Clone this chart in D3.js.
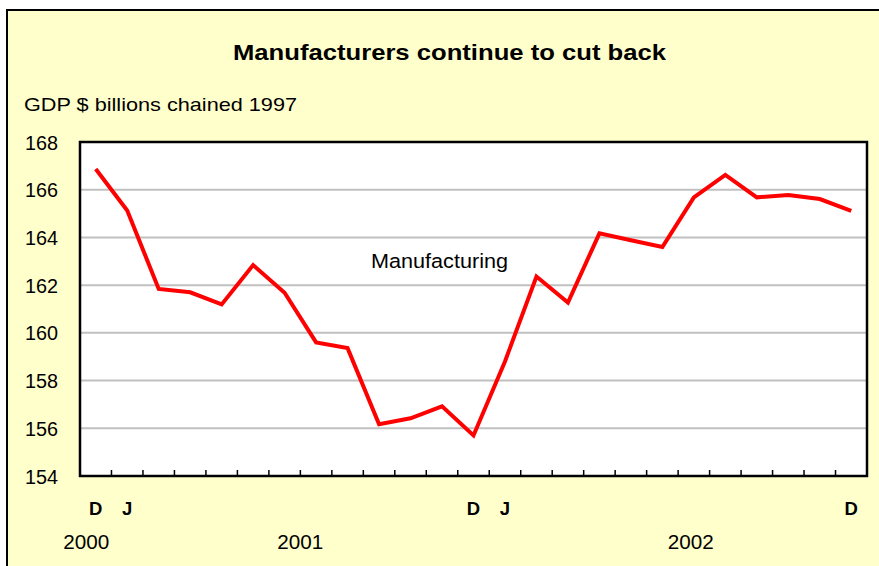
<!DOCTYPE html>
<html><head><meta charset="utf-8">
<script src="https://cdn.jsdelivr.net/npm/d3@7"></script>
<style>body{margin:0;background:#fff}svg{display:block;font-family:"Liberation Sans",Arial,sans-serif}</style>
</head><body><svg id="c" width="879" height="566"></svg>
<script>
const months = ["Dec00","Jan01","Feb01","Mar01","Apr01","May01","Jun01","Jul01","Aug01","Sep01","Oct01","Nov01","Dec01",
"Jan02","Feb02","Mar02","Apr02","May02","Jun02","Jul02","Aug02","Sep02","Oct02","Nov02","Dec02"];
const manufacturing = [166.87,165.13,161.84,161.70,161.19,162.84,161.68,159.60,159.36,156.17,156.42,156.92,155.70,
158.80,162.36,161.27,164.17,163.88,163.60,165.68,166.62,165.68,165.78,165.61,165.11];
const monthLabels = {"Dec00":"D","Jan01":"J","Dec01":"D","Jan02":"J","Dec02":"D"};
const yTicks = [154,156,158,160,162,164,166,168];
const yearLabels = [{year:"2000", at:-0.3},{year:"2001", at:6.5},{year:"2002", at:18.9}];
const title = "Manufacturers continue to cut back";
const yTitle = "GDP $ billions chained 1997";
const seriesName = "Manufacturing";

const svg = d3.select("#c");
svg.append("rect").attr("x",7).attr("y",10).attr("width",900).attr("height",600)
  .attr("fill","#FFFFCC").attr("stroke","#000").attr("stroke-width",2);

const m = {l:80, r:867, t:142, b:476};
const x = d3.scaleBand().domain(months).range([m.l, m.r]).paddingInner(0).paddingOuter(0);
const y = d3.scaleLinear().domain([154,168]).range([m.b, m.t]);

svg.append("rect").attr("x",m.l).attr("y",m.t).attr("width",m.r-m.l).attr("height",m.b-m.t).attr("fill","#fff");

// gridlines
svg.append("g").selectAll("line").data(yTicks.filter(d=>d>154 && d<168)).join("line")
  .attr("x1",m.l).attr("x2",m.r).attr("y1",d=>y(d)).attr("y2",d=>y(d))
  .attr("stroke","#C0C0C0").attr("stroke-width",2);

// y labels
svg.append("g").selectAll("text").data(yTicks).join("text")
  .attr("x",58).attr("y",d=>y(d)+7.5).attr("text-anchor","end")
  .attr("font-size",19.5).attr("fill","#000").attr("textLength",33).attr("lengthAdjust","spacingAndGlyphs").text(d=>d);

// x ticks
const bounds = months.slice(1).map(d=>x(d));
svg.append("g").selectAll("line").data(bounds).join("line")
  .attr("x1",d=>d).attr("x2",d=>d).attr("y1",m.b).attr("y2",m.b-6)
  .attr("stroke","#000").attr("stroke-width",1.5);

// plot border
svg.append("rect").attr("x",m.l).attr("y",m.t).attr("width",m.r-m.l).attr("height",m.b-m.t)
  .attr("fill","none").attr("stroke","#000").attr("stroke-width",2.5);

// line
const line = d3.line().x((d,i)=>x(months[i])+x.bandwidth()/2).y(d=>y(d));
svg.append("path").datum(manufacturing).attr("d",line).attr("fill","none")
  .attr("stroke","#FF0000").attr("stroke-width",4).attr("stroke-linejoin","miter");

// month letters
svg.append("g").selectAll("text").data(months.filter(d=>monthLabels[d])).join("text")
  .attr("x",d=>x(d)+x.bandwidth()/2).attr("y",515).attr("text-anchor","middle")
  .attr("font-size",18.5).attr("font-weight","bold").text(d=>monthLabels[d]);

// year labels
svg.append("g").selectAll("text").data(yearLabels).join("text")
  .attr("x",d=>m.l + d.at*x.step() + x.bandwidth()/2).attr("y",549).attr("text-anchor","middle")
  .attr("font-size",19.5).attr("textLength",46).attr("lengthAdjust","spacingAndGlyphs").text(d=>d.year);

svg.append("text").attr("x",449.5).attr("y",60).attr("text-anchor","middle")
  .attr("font-size",22).attr("font-weight","bold").attr("textLength",433).attr("lengthAdjust","spacingAndGlyphs").text(title);
svg.append("text").attr("x",24).attr("y",111).attr("font-size",19)
  .attr("textLength",273).attr("lengthAdjust","spacingAndGlyphs").text(yTitle);
svg.append("text").attr("x",439.5).attr("y",268).attr("text-anchor","middle").attr("font-size",20.5)
  .attr("textLength",137).attr("lengthAdjust","spacingAndGlyphs").text(seriesName);
</script></body></html>
